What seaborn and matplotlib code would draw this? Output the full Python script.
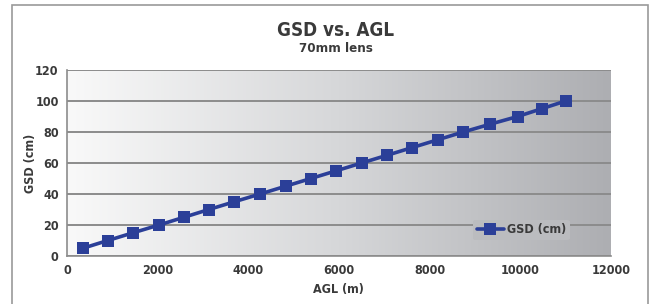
import numpy as np
import pandas as pd
import matplotlib
matplotlib.use("Agg")
import matplotlib.pyplot as plt
from matplotlib.patches import Rectangle
import seaborn as sns

# values
agl_m = [350, 900, 1460, 2030, 2580, 3130, 3690, 4260, 4820, 5380,
         5940, 6500, 7060, 7620, 8180, 8740, 9330, 9940, 10470, 11000]
gsd_cm = [5, 10, 15, 20, 25, 30, 35, 40, 45, 50,
          55, 60, 65, 70, 75, 80, 85, 90, 95, 100]
x_ticks = [0, 2000, 4000, 6000, 8000, 10000, 12000]
y_ticks = [0, 20, 40, 60, 80, 100, 120]
series_name = "GSD (cm)"

df = pd.DataFrame({"AGL (m)": agl_m, "GSD": gsd_cm, "series": series_name})

sns.set_style("white")
plt.rcParams["font.family"] = ["Liberation Sans Narrow", "DejaVu Sans"]
plt.rcParams["font.stretch"] = "condensed"
plt.rcParams["font.weight"] = "bold"
text_col = "#3a3a3a"
line_col = "#2b3f98"

fig = plt.figure(figsize=(6.53, 3.04), dpi=100)
ax = fig.add_axes([67 / 653, 1 - 256 / 304, 544 / 653, 186 / 304])

# outer frame of the figure
fig.patches.append(Rectangle((12 / 653, -0.05), 636 / 653, 1.05 - 5 / 304,
                             transform=fig.transFigure, fill=False,
                             edgecolor="#9a9a9a", linewidth=1.2))

# white -> grey gradient plot background
grad = np.linspace(0, 1, 256).reshape(1, -1)
cmap = matplotlib.colors.LinearSegmentedColormap.from_list(
    "bg", ["#f9f9f9", "#d6d7d9", "#adaeb2"])
ax.imshow(grad, cmap=cmap, aspect="auto", extent=[0, 12000, 0, 120],
          zorder=0, interpolation="bicubic")

sns.lineplot(data=df, x="AGL (m)", y="GSD", hue="series", palette=[line_col],
             marker="s", markersize=8, markeredgewidth=0, linewidth=2.6,
             ax=ax, zorder=3)

ax.set_xlim(0, 12000)
ax.set_ylim(0, 120)
ax.set_xticks(x_ticks)
ax.set_yticks(y_ticks)
ax.grid(axis="y", color="#8c8c8c", linewidth=1.4, zorder=1)
ax.set_axisbelow(True)
for s in ["top", "right"]:
    ax.spines[s].set_visible(False)
for s in ["left", "bottom"]:
    ax.spines[s].set_color("#8c8c8c")
    ax.spines[s].set_linewidth(1.2)
ax.tick_params(axis="both", direction="out", length=4, width=1,
               color="#8c8c8c", labelsize=9, labelcolor=text_col, pad=2)
for lbl in ax.get_xticklabels() + ax.get_yticklabels():
    lbl.set_fontweight("bold")

ax.set_xlabel("AGL (m)", fontsize=9, fontweight="bold", color=text_col)
ax.set_ylabel("GSD (cm)", fontsize=9, fontweight="bold", color=text_col)
ax.xaxis.set_label_coords((338 - 67) / 544, -(283 - 256) / 186)
ax.yaxis.set_label_coords(-(67 - 37) / 544, (256 - 163) / 186)

fig.text(336 / 653, 1 - 31 / 304, "GSD vs. AGL", ha="center", va="center",
         fontsize=13.5, fontweight="bold", color=text_col)
fig.text(336 / 653, 1 - 49 / 304, "70mm lens", ha="center", va="center",
         fontsize=9.5, fontweight="bold", color=text_col)

leg_x = 0.835
leg = ax.legend(loc="center", bbox_to_anchor=(leg_x, 0.14), frameon=True,
                handlelength=2.2, handletextpad=0.2, borderpad=0.3,
                fontsize=9)
leg.get_frame().set_facecolor(cmap(leg_x))
leg.get_frame().set_edgecolor("none")
leg.get_frame().set_alpha(1)
for t in leg.get_texts():
    t.set_color(text_col)
    t.set_fontweight("bold")

fig.savefig("out.png", dpi=100)
plt.close(fig)
